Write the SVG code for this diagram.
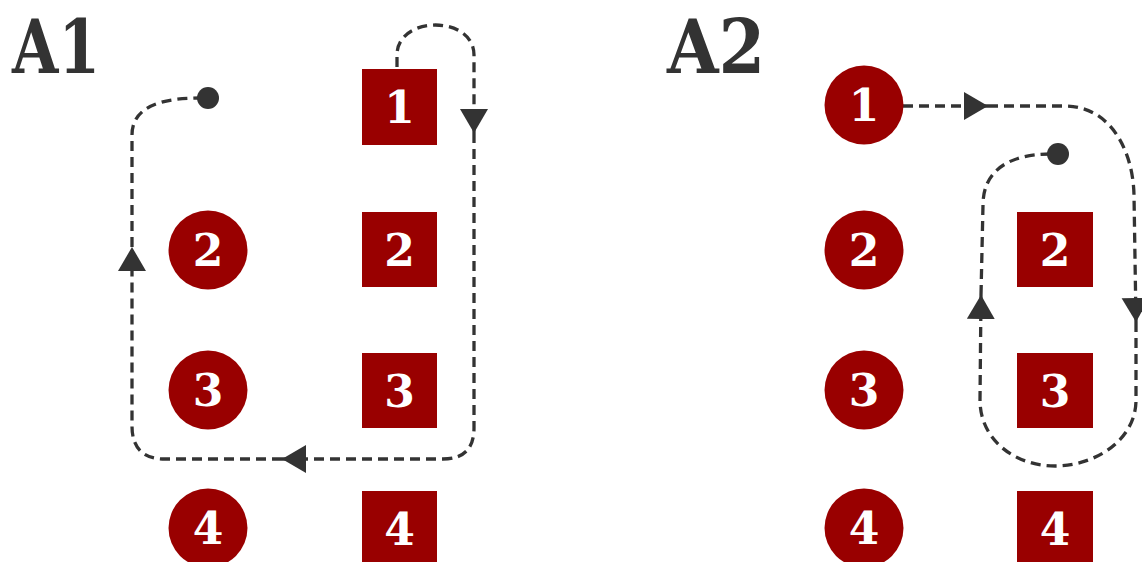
<svg xmlns="http://www.w3.org/2000/svg" width="1142" height="562" viewBox="0 0 1142 562">
<style>
.title{font-family:"DejaVu Serif","Liberation Serif",serif;font-weight:bold;font-size:74px;fill:#333}
.num{font-family:"DejaVu Serif","Liberation Serif",serif;font-weight:bold;font-size:44px;fill:#fff;text-anchor:middle}
.red{fill:#990000}
.link{fill:none;stroke:#333;stroke-width:3.3;stroke-dasharray:10 6}
</style>
<defs>
<marker id="arr" markerUnits="userSpaceOnUse" markerWidth="26" markerHeight="30" refX="24" refY="14" orient="auto">
<path d="M0,0 L24,14 L0,28 z" fill="#333"/>
</marker>
</defs>
<text class="title" x="12" y="73" textLength="88" lengthAdjust="spacingAndGlyphs">A1</text>
<text class="title" x="667" y="73" textLength="98" lengthAdjust="spacingAndGlyphs">A2</text>
<g id="connectors">
<path class="link" d="M397,67 L397,55 C397,15 474,15 474,55 L474,133" marker-end="url(#arr)"/>
<path class="link" d="M474,133 L474,428 Q474,459 443,459 L282,459" marker-end="url(#arr)"/>
<path class="link" d="M282,459 L165,459 Q132,459 132,426 L132,247" marker-end="url(#arr)"/>
<path class="link" d="M132,247 L132,135 C132,105 165,98 200,98"/>
<circle cx="208" cy="98" r="11" fill="#333"/>
<path class="link" d="M903,106 L988,106" marker-end="url(#arr)"/>
<path class="link" d="M988,106 L1065,106 C1110,106 1133,150 1134,195 L1136,322" marker-end="url(#arr)"/>
<path class="link" d="M1136,322 L1136,400 C1136,440 1095,466 1055,466 C1015,466 980,440 980,400 L981,295" marker-end="url(#arr)"/>
<path class="link" d="M981,295 L983,205 C983,170 1010,154 1050,154"/>
<circle cx="1058" cy="154" r="11" fill="#333"/>
</g>
<g id="a1-sq1"><rect class="red" x="362" y="69" width="75" height="76"/><text class="num" x="399.5" y="123">1</text></g>
<g id="a1-sq2"><rect class="red" x="362" y="212" width="75" height="75"/><text class="num" x="399.5" y="266">2</text></g>
<g id="a1-sq3"><rect class="red" x="362" y="353" width="75" height="75"/><text class="num" x="399.5" y="407">3</text></g>
<g id="a1-sq4"><rect class="red" x="362" y="491" width="75" height="75"/><text class="num" x="399.5" y="545">4</text></g>
<g id="a1-c2"><circle class="red" cx="208" cy="250" r="39.5"/><text class="num" x="208" y="266">2</text></g>
<g id="a1-c3"><circle class="red" cx="208" cy="390" r="39.5"/><text class="num" x="208" y="406">3</text></g>
<g id="a1-c4"><circle class="red" cx="208" cy="528" r="39.5"/><text class="num" x="208" y="544">4</text></g>
<g id="a2-c1"><circle class="red" cx="864" cy="105" r="39.5"/><text class="num" x="864" y="121">1</text></g>
<g id="a2-c2"><circle class="red" cx="864" cy="250" r="39.5"/><text class="num" x="864" y="266">2</text></g>
<g id="a2-c3"><circle class="red" cx="864" cy="390" r="39.5"/><text class="num" x="864" y="406">3</text></g>
<g id="a2-c4"><circle class="red" cx="864" cy="528" r="39.5"/><text class="num" x="864" y="544">4</text></g>
<g id="a2-sq2"><rect class="red" x="1017" y="212" width="76" height="75"/><text class="num" x="1055" y="266">2</text></g>
<g id="a2-sq3"><rect class="red" x="1017" y="353" width="76" height="75"/><text class="num" x="1055" y="407">3</text></g>
<g id="a2-sq4"><rect class="red" x="1017" y="491" width="76" height="75"/><text class="num" x="1055" y="545">4</text></g>
</svg>
